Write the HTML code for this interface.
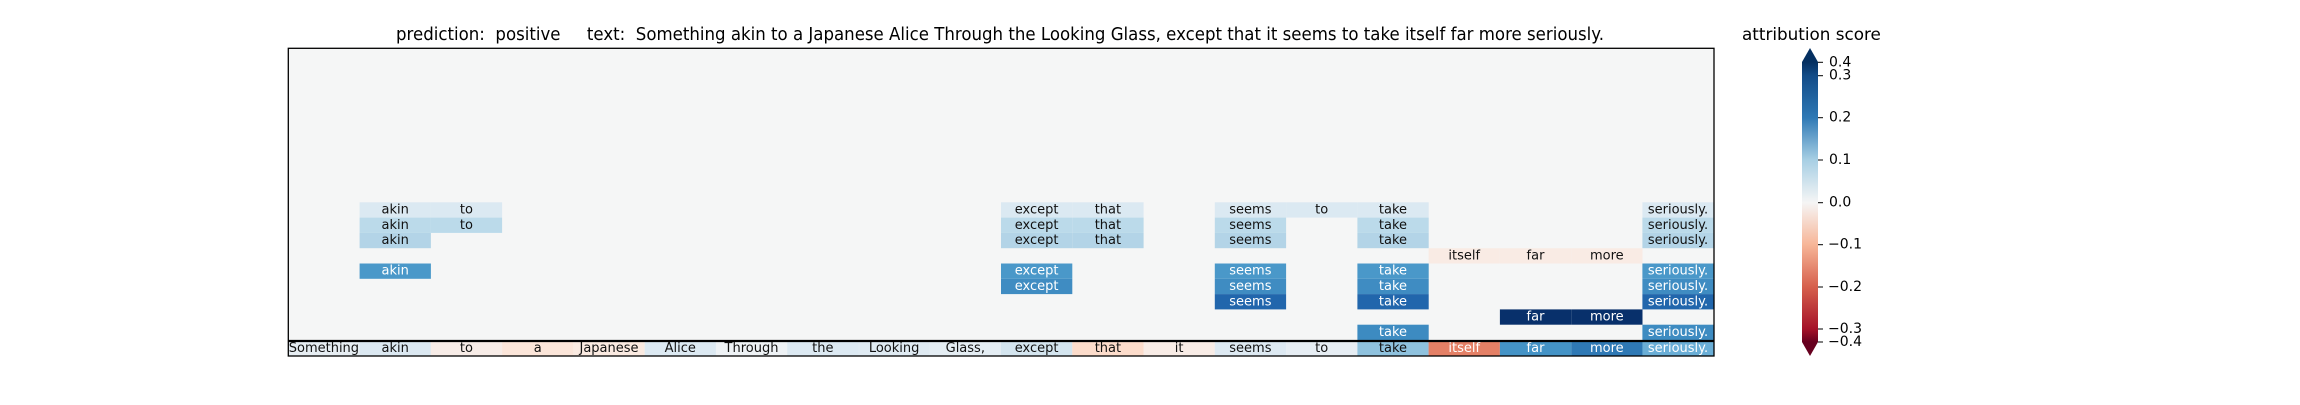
<!DOCTYPE html>
<html><head><meta charset="utf-8"><style>
html,body{margin:0;padding:0;background:#fff;}
svg text{font-family:"DejaVu Sans","Liberation Sans",sans-serif;}
</style></head><body>
<svg width="2300" height="400" xmlns="http://www.w3.org/2000/svg">
<defs>
<linearGradient id="cb" x1="0" y1="0" x2="0" y2="1">
<stop offset="0" stop-color="#053061"/>
<stop offset="0.049" stop-color="#134c88"/>
<stop offset="0.199" stop-color="#2f79b5"/>
<stop offset="0.35" stop-color="#a7cfe4"/>
<stop offset="0.502" stop-color="#f5f5f5"/>
<stop offset="0.652" stop-color="#f7b698"/>
<stop offset="0.803" stop-color="#d6604d"/>
<stop offset="0.953" stop-color="#a51228"/>
<stop offset="1" stop-color="#67001f"/>
</linearGradient>
</defs>
<text x="396" y="40" font-size="17.5" fill="#000" textLength="1208" lengthAdjust="spacingAndGlyphs" xml:space="preserve">prediction:  positive     text:  Something akin to a Japanese Alice Through the Looking Glass, except that it seems to take itself far more seriously.</text>
<text x="1742" y="40" font-size="16.8" fill="#000">attribution score</text>
<rect x="288.3" y="48.3" width="1425.7" height="307.7" fill="#f5f6f6"/>
<g font-size="13" text-anchor="middle" dominant-baseline="central">
<g fill="#dbe9f2">
<rect x="359.6" y="202.3" width="71.3" height="15.3"/><rect x="430.8" y="202.3" width="71.3" height="15.3"/>
<rect x="1001" y="202.3" width="71.3" height="15.3"/><rect x="1072.3" y="202.3" width="71.3" height="15.3"/>
<rect x="1214.8" y="202.3" width="71.3" height="15.3"/><rect x="1286.1" y="202.3" width="71.3" height="15.3"/>
<rect x="1357.4" y="202.3" width="71.3" height="15.3"/><rect x="1642.4" y="202.3" width="71.3" height="15.3"/>
</g>
<g fill="#bbdaea">
<rect x="359.6" y="217.6" width="71.3" height="15.3"/><rect x="430.8" y="217.6" width="71.3" height="15.3"/>
<rect x="1001" y="217.6" width="71.3" height="15.3"/><rect x="1072.3" y="217.6" width="71.3" height="15.3"/>
<rect x="1214.8" y="217.6" width="71.3" height="15.3"/><rect x="1357.4" y="217.6" width="71.3" height="15.3"/>
<rect x="1642.4" y="217.6" width="71.3" height="15.3"/>
</g>
<g fill="#b3d4e7">
<rect x="359.6" y="232.9" width="71.3" height="15.3"/>
<rect x="1001" y="232.9" width="71.3" height="15.3"/><rect x="1072.3" y="232.9" width="71.3" height="15.3"/>
<rect x="1214.8" y="232.9" width="71.3" height="15.3"/><rect x="1357.4" y="232.9" width="71.3" height="15.3"/>
<rect x="1642.4" y="232.9" width="71.3" height="15.3"/>
</g>
<g fill="#f9ebe4">
<rect x="1428.6" y="248.2" width="71.3" height="15.3"/><rect x="1499.9" y="248.2" width="71.3" height="15.3"/><rect x="1571.2" y="248.2" width="71.3" height="15.3"/>
</g>
<g fill="#4a98c9">
<rect x="359.6" y="263.5" width="71.3" height="15.3"/><rect x="1001" y="263.5" width="71.3" height="15.3"/>
<rect x="1214.8" y="263.5" width="71.3" height="15.3"/><rect x="1357.4" y="263.5" width="71.3" height="15.3"/>
<rect x="1642.4" y="263.5" width="71.3" height="15.3"/>
</g>
<g fill="#3f8cc2">
<rect x="1001" y="278.8" width="71.3" height="15.3"/>
<rect x="1214.8" y="278.8" width="71.3" height="15.3"/><rect x="1357.4" y="278.8" width="71.3" height="15.3"/>
<rect x="1642.4" y="278.8" width="71.3" height="15.3"/>
</g>
<g fill="#2166ac">
<rect x="1214.8" y="294.1" width="71.3" height="15.3"/><rect x="1357.4" y="294.1" width="71.3" height="15.3"/>
<rect x="1642.4" y="294.1" width="71.3" height="15.3"/>
</g>
<g fill="#08306b">
<rect x="1499.9" y="309.4" width="71.3" height="15.3"/><rect x="1571.2" y="309.4" width="71.3" height="15.3"/>
</g>
<g fill="#3d8bc1">
<rect x="1357.4" y="324.7" width="71.3" height="15.3"/><rect x="1642.4" y="324.7" width="71.3" height="15.3"/>
</g>
<rect x="288.3" y="341" width="71.3" height="15" fill="#e6edf2"/>
<rect x="359.6" y="341" width="71.3" height="15" fill="#dbe8f1"/>
<rect x="430.8" y="341" width="71.3" height="15" fill="#f7ece7"/>
<rect x="502.1" y="341" width="71.3" height="15" fill="#fbe5d9"/>
<rect x="573.4" y="341" width="71.3" height="15" fill="#faeae1"/>
<rect x="644.7" y="341" width="71.3" height="15" fill="#dce9f2"/>
<rect x="715.9" y="341" width="71.3" height="15" fill="#eef2f5"/>
<rect x="787.2" y="341" width="71.3" height="15" fill="#dce9f2"/>
<rect x="858.5" y="341" width="71.3" height="15" fill="#dfeaf2"/>
<rect x="929.7" y="341" width="71.3" height="15" fill="#e4edf3"/>
<rect x="1001" y="341" width="71.3" height="15" fill="#d4e5ef"/>
<rect x="1072.3" y="341" width="71.3" height="15" fill="#fcdccb"/>
<rect x="1143.5" y="341" width="71.3" height="15" fill="#f8ece6"/>
<rect x="1214.8" y="341" width="71.3" height="15" fill="#dde9f2"/>
<rect x="1286.1" y="341" width="71.3" height="15" fill="#e6edf3"/>
<rect x="1357.4" y="341" width="71.3" height="15" fill="#8fc2de"/>
<rect x="1428.6" y="341" width="71.3" height="15" fill="#e48066"/>
<rect x="1499.9" y="341" width="71.3" height="15" fill="#4493c6"/>
<rect x="1571.2" y="341" width="71.3" height="15" fill="#2f79b5"/>
<rect x="1642.4" y="341" width="71.3" height="15" fill="#6aaed6"/>

<g fill="#111">
<text x="395.2" y="210">akin</text><text x="466.4" y="210">to</text><text x="1036.6" y="210">except</text><text x="1107.9" y="210">that</text><text x="1250.4" y="210">seems</text><text x="1321.7" y="210">to</text><text x="1393" y="210">take</text><text x="1678" y="210">seriously.</text>
<text x="395.2" y="225.3">akin</text><text x="466.4" y="225.3">to</text><text x="1036.6" y="225.3">except</text><text x="1107.9" y="225.3">that</text><text x="1250.4" y="225.3">seems</text><text x="1393" y="225.3">take</text><text x="1678" y="225.3">seriously.</text>
<text x="395.2" y="240.6">akin</text><text x="1036.6" y="240.6">except</text><text x="1107.9" y="240.6">that</text><text x="1250.4" y="240.6">seems</text><text x="1393" y="240.6">take</text><text x="1678" y="240.6">seriously.</text>
<text x="1464.2" y="255.9">itself</text><text x="1535.5" y="255.9">far</text><text x="1606.8" y="255.9">more</text>
<text x="323.9" y="348.5">Something</text><text x="395.2" y="348.5">akin</text><text x="466.4" y="348.5">to</text><text x="537.7" y="348.5">a</text><text x="609" y="348.5">Japanese</text><text x="680.3" y="348.5">Alice</text><text x="751.5" y="348.5">Through</text><text x="822.8" y="348.5">the</text><text x="894.1" y="348.5">Looking</text><text x="965.3" y="348.5">Glass,</text><text x="1036.6" y="348.5">except</text><text x="1107.9" y="348.5">that</text><text x="1179.1" y="348.5">it</text><text x="1250.4" y="348.5">seems</text><text x="1321.7" y="348.5">to</text><text x="1393" y="348.5">take</text>
</g>
<g fill="#fff">
<text x="395.2" y="271.2">akin</text><text x="1036.6" y="271.2">except</text><text x="1250.4" y="271.2">seems</text><text x="1393" y="271.2">take</text><text x="1678" y="271.2">seriously.</text>
<text x="1036.6" y="286.5">except</text><text x="1250.4" y="286.5">seems</text><text x="1393" y="286.5">take</text><text x="1678" y="286.5">seriously.</text>
<text x="1250.4" y="301.8">seems</text><text x="1393" y="301.8">take</text><text x="1678" y="301.8">seriously.</text>
<text x="1535.5" y="317.1">far</text><text x="1606.8" y="317.1">more</text>
<text x="1393" y="332.4">take</text><text x="1678" y="332.4">seriously.</text>
<text x="1464.2" y="348.5">itself</text><text x="1535.5" y="348.5">far</text><text x="1606.8" y="348.5">more</text><text x="1678" y="348.5">seriously.</text>
</g>
</g>
<line x1="288.3" y1="341" x2="1714" y2="341" stroke="#000" stroke-width="2.2"/>
<rect x="288.3" y="48.3" width="1425.7" height="307.7" fill="none" stroke="#000" stroke-width="1.3"/>
<rect x="1802" y="62" width="16" height="280" fill="url(#cb)"/>
<polygon points="1802,62 1810,48 1818,62" fill="#053061"/>
<polygon points="1802,342 1810,356 1818,342" fill="#67001f"/>
<g stroke="#000" stroke-width="1">
<line x1="1818" y1="62.3" x2="1823" y2="62.3"/><line x1="1818" y1="75.7" x2="1823" y2="75.7"/><line x1="1818" y1="117.7" x2="1823" y2="117.7"/><line x1="1818" y1="160" x2="1823" y2="160"/><line x1="1818" y1="202.7" x2="1823" y2="202.7"/><line x1="1818" y1="244.7" x2="1823" y2="244.7"/><line x1="1818" y1="287" x2="1823" y2="287"/><line x1="1818" y1="329" x2="1823" y2="329"/><line x1="1818" y1="342" x2="1823" y2="342"/>
</g>
<g font-size="14" fill="#000" dominant-baseline="central">
<text x="1829" y="62.3">0.4</text><text x="1829" y="75.7">0.3</text><text x="1829" y="117.7">0.2</text><text x="1829" y="160">0.1</text><text x="1829" y="202.7">0.0</text><text x="1828" y="244.7">−0.1</text><text x="1828" y="287">−0.2</text><text x="1828" y="329">−0.3</text><text x="1828" y="342">−0.4</text>
</g>
</svg>
</body></html>
